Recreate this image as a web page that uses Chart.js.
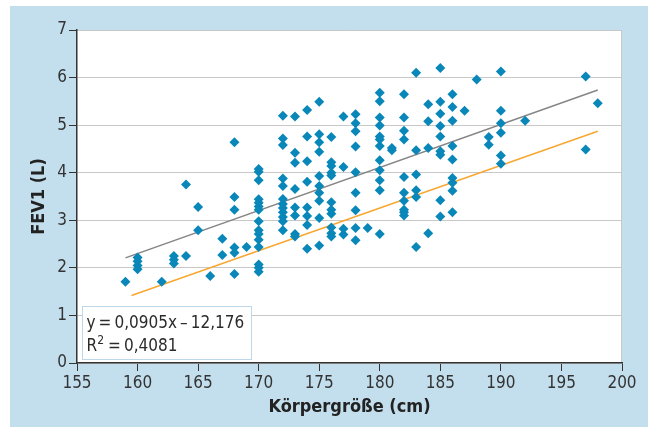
<!DOCTYPE html>
<html>
<head>
<meta charset="utf-8">
<script src="https://cdn.jsdelivr.net/npm/chart.js@4"></script>
<style>
  html, body { margin: 0; padding: 0; background: #fff; }
  #wrap { width: 648px; height: 427px; }
</style>
</head>
<body>
<div id="wrap"><canvas id="fevChart" width="648" height="427"></canvas></div>
<script>
// Körpergröße (cm) per column and the FEV1 values (L) read at each height
var heightCm = [159, 160, 162, 163, 164, 165, 166, 167, 168, 169, 170, 172, 173, 174, 175, 176, 177, 178, 179, 180,
                181, 182, 183, 184, 185, 186, 187, 188, 189, 190, 192, 197, 198];
var fevL = [
    [1.71],
    [2.22, 2.14, 2.05, 1.97],
    [1.71],
    [2.25, 2.17, 2.09],
    [3.75, 2.25],
    [3.28, 2.79],
    [1.83],
    [2.61, 2.27],
    [4.64, 3.49, 3.22, 2.43, 2.32, 1.87],
    [2.44],
    [4.08, 4.02, 3.84, 3.44, 3.37, 3.29, 3.22, 2.98, 2.79, 2.71, 2.59, 2.44, 2.07, 2.00, 1.92],
    [5.20, 4.72, 4.58, 3.88, 3.72, 3.45, 3.34, 3.26, 3.17, 3.07, 2.98, 2.79],
    [5.18, 4.42, 4.21, 3.66, 3.27, 3.10, 2.71, 2.66],
    [5.32, 4.76, 4.24, 3.81, 3.27, 3.09, 2.90, 2.40],
    [5.49, 4.81, 4.64, 4.44, 3.93, 3.72, 3.58, 3.41, 3.05, 2.47],
    [4.75, 4.22, 4.14, 4.00, 3.94, 3.38, 3.22, 3.14, 2.85, 2.73, 2.66],
    [5.18, 4.12, 2.82, 2.70],
    [5.23, 5.04, 4.87, 4.55, 4.01, 3.58, 3.21, 2.84, 2.58],
    [2.84],
    [5.68, 5.50, 5.16, 4.99, 4.76, 4.70, 4.56, 4.26, 4.05, 3.84, 3.63, 2.71],
    [4.52, 4.47],
    [5.65, 5.16, 4.88, 4.70, 3.91, 3.58, 3.41, 3.22, 3.17, 3.10],
    [6.10, 4.47, 3.96, 3.63, 3.49, 2.44],
    [5.44, 5.08, 4.52, 2.73],
    [6.20, 5.49, 5.24, 4.98, 4.76, 4.45, 4.38, 3.42, 3.08],
    [5.65, 5.38, 5.09, 4.56, 4.28, 3.89, 3.79, 3.62, 3.17],
    [5.30],
    [5.96],
    [4.75, 4.59],
    [6.13, 5.30, 5.04, 4.84, 4.36, 4.19],
    [5.09],
    [6.02, 4.49],
    [5.46]
];

// regression line (grey) and lower line (orange), end points
var fitX = [159, 198];
var fitY = [2.21, 5.74];
var lowerX = [159.5, 198];
var lowerY = [1.42, 4.87];

var xTicks = [155, 160, 165, 170, 175, 180, 185, 190, 195, 200];
var yTicks = [0, 1, 2, 3, 4, 5, 6, 7];

var equationText = 'y\u2009=\u20090,0905x\u2009\u2013\u200912,176';
var r2Text = '\u2009=\u20090,4081';

var FONT = '"Liberation Sans Narrow", "DejaVu Sans Condensed", "Open Sans", sans-serif';

var points = [];
heightCm.forEach(function(h, i) {
    fevL[i].forEach(function(v) { points.push({ x: h, y: v }); });
});

function toXY(xs, ys) {
    return xs.map(function(x, i) { return { x: x, y: ys[i] }; });
}

// light blue frame, white plot area, and the equation box
var framePlugin = {
    id: 'frame',
    beforeDraw: function(chart) {
        var c = chart.ctx, a = chart.chartArea;
        c.save();
        c.fillStyle = '#ffffff';
        c.fillRect(0, 0, chart.width, chart.height);
        c.fillStyle = '#c3dfee';
        c.fillRect(10, 6, chart.width - 10, chart.height - 6);
        c.fillStyle = '#ffffff';
        c.fillRect(a.left, a.top, a.right - a.left, a.bottom - a.top);
        c.strokeStyle = '#c8c8c8';
        c.lineWidth = 1;
        c.beginPath();
        c.moveTo(a.left, a.top + 0.5);
        c.lineTo(a.right - 0.5, a.top + 0.5);
        c.lineTo(a.right - 0.5, a.bottom);
        c.stroke();
        c.restore();
    },
    afterDraw: function(chart) {
        var c = chart.ctx, a = chart.chartArea;
        var bx = a.left + 5.5, by = a.bottom - 56.5, bw = 169, bh = 53;
        c.save();
        c.fillStyle = '#ffffff';
        c.fillRect(bx, by, bw, bh);
        c.strokeStyle = '#bcd8ea';
        c.lineWidth = 1;
        c.strokeRect(bx, by, bw, bh);
        c.fillStyle = '#2b2b2b';
        c.textBaseline = 'alphabetic';
        c.font = '17px ' + FONT;
        c.fillText(equationText, bx + 4, by + 21);
        c.fillText('R', bx + 4, by + 44);
        var rw = c.measureText('R').width;
        c.font = '12px ' + FONT;
        c.fillText('2', bx + 4 + rw, by + 37);
        var sw = c.measureText('2').width;
        c.font = '17px ' + FONT;
        c.fillText(r2Text, bx + 5 + rw + sw, by + 44);
        c.restore();
    }
};

var ctx = document.getElementById('fevChart').getContext('2d');
var fevChart = new Chart(ctx, {
    type: 'scatter',
    data: {
        datasets: [
            {
                label: 'FEV1',
                data: points,
                pointStyle: 'rectRot',
                pointRadius: 5,
                pointBackgroundColor: '#0a87b9',
                pointBorderColor: '#0a87b9',
                pointBorderWidth: 0,
                order: 1
            },
            {
                label: 'Regression',
                type: 'line',
                data: toXY(fitX, fitY),
                borderColor: '#858585',
                borderWidth: 1.5,
                pointRadius: 0,
                fill: false,
                order: 2
            },
            {
                label: 'Untere Grenze',
                type: 'line',
                data: toXY(lowerX, lowerY),
                borderColor: '#f7a732',
                borderWidth: 1.5,
                pointRadius: 0,
                fill: false,
                order: 3
            }
        ]
    },
    options: {
        responsive: false,
        animation: false,
        layout: { padding: { left: 10, top: 30, right: 26, bottom: 0 } },
        plugins: {
            legend: { display: false },
            tooltip: { enabled: false }
        },
        scales: {
            x: {
                type: 'linear',
                min: 155,
                max: 200,
                afterBuildTicks: function(axis) {
                    axis.ticks = xTicks.map(function(v) { return { value: v }; });
                },
                afterFit: function(axis) { axis.height = 64; },
                grid: { drawOnChartArea: false, drawTicks: true, tickLength: 8, color: '#333333', tickColor: '#333333' },
                border: { display: true, color: '#333333', width: 1.5 },
                ticks: { color: '#333333', padding: 2, maxRotation: 0, font: { family: FONT, size: 17 } },
                title: {
                    display: true,
                    text: 'Körpergröße (cm)',
                    color: '#222222',
                    padding: { top: 0, bottom: 9 },
                    font: { family: FONT, size: 18, weight: 'bold' }
                }
            },
            y: {
                type: 'linear',
                min: 0,
                max: 7,
                afterBuildTicks: function(axis) {
                    axis.ticks = yTicks.map(function(v) { return { value: v }; });
                },
                afterFit: function(axis) { axis.width = 67; },
                grid: { drawOnChartArea: true, drawTicks: true, tickLength: 8, color: '#c8c8c8', tickColor: '#333333' },
                border: { display: true, color: '#333333', width: 1.5 },
                ticks: { color: '#333333', padding: 2, font: { family: FONT, size: 17 } },
                title: {
                    display: true,
                    text: 'FEV1 (L)',
                    color: '#222222',
                    padding: { top: 19, bottom: 0 },
                    font: { family: FONT, size: 18, weight: 'bold' }
                }
            }
        }
    },
    plugins: [framePlugin]
});
</script>
</body>
</html>
